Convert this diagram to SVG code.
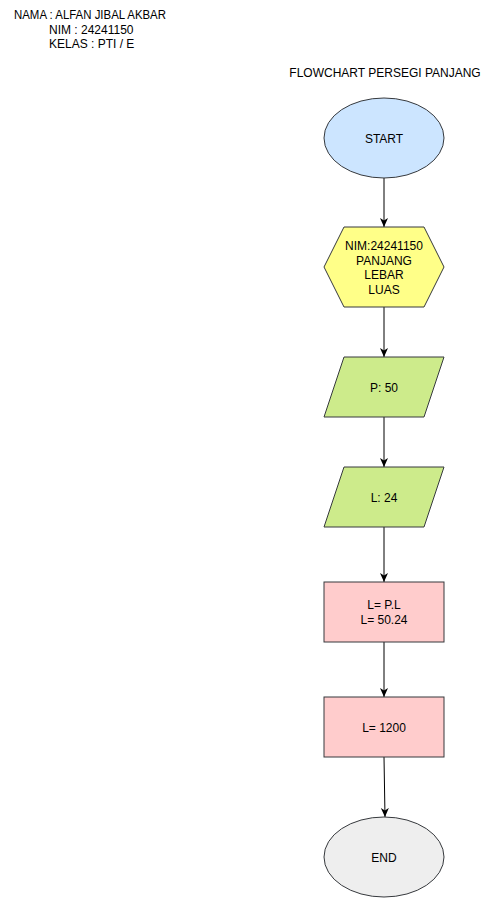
<svg xmlns="http://www.w3.org/2000/svg" width="489" height="898" viewBox="0 0 489 898">
<style>
text{font-family:"Liberation Sans",Arial,Helvetica,sans-serif;font-size:12px;fill:#000}
.c{text-anchor:middle}
.s{stroke:#36393d;stroke-width:1}
.e{stroke:#000;stroke-width:1;fill:none}
</style>
<defs>
<marker id="ar" markerWidth="10" markerHeight="10" viewBox="0 0 10 10" refX="9" refY="5" orient="auto" markerUnits="userSpaceOnUse">
<path d="M0,1 L9,5 L0,9 L2.5,5 Z" fill="#000"/>
</marker>
</defs>
<rect width="489" height="898" fill="#fff"/>
<g id="info">
<text x="14" y="19" textLength="152" lengthAdjust="spacingAndGlyphs">NAMA : ALFAN JIBAL AKBAR</text>
<text x="49" y="34">NIM : 24241150</text>
<text x="49" y="48">KELAS : PTI / E</text>
</g>
<g id="title"><text class="c" x="385" y="77">FLOWCHART PERSEGI PANJANG</text></g>
<g id="connectors">
<line class="e" x1="384" y1="178" x2="384" y2="227" marker-end="url(#ar)"/>
<line class="e" x1="384" y1="307" x2="384" y2="357" marker-end="url(#ar)"/>
<line class="e" x1="384" y1="417" x2="384" y2="467" marker-end="url(#ar)"/>
<line class="e" x1="384" y1="527" x2="384" y2="582" marker-end="url(#ar)"/>
<line class="e" x1="384" y1="642" x2="384" y2="697" marker-end="url(#ar)"/>
<line class="e" x1="384" y1="757" x2="385" y2="817" marker-end="url(#ar)"/>
</g>
<g id="start">
<ellipse class="s" cx="384" cy="138" rx="60" ry="40" fill="#cce5ff"/>
<text class="c" x="384" y="143">START</text>
</g>
<g id="vars">
<polygon class="s" points="344,227 424,227 444,267 424,307 344,307 324,267" fill="#ffff88"/>
<text class="c" x="384" y="250">NIM:24241150</text>
<text class="c" x="384" y="264.5">PANJANG</text>
<text class="c" x="384" y="279">LEBAR</text>
<text class="c" x="384" y="293.5">LUAS</text>
</g>
<g id="inputP">
<polygon class="s" points="344,357 444,357 424,417 324,417" fill="#cdeb8b"/>
<text class="c" x="384" y="391.5">P: 50</text>
</g>
<g id="inputL">
<polygon class="s" points="344,467 444,467 424,527 324,527" fill="#cdeb8b"/>
<text class="c" x="384" y="501.5">L: 24</text>
</g>
<g id="proc1">
<rect class="s" x="324" y="582" width="120" height="60" fill="#ffcccc"/>
<text class="c" x="384" y="609">L= P.L</text>
<text class="c" x="384" y="624">L= 50.24</text>
</g>
<g id="proc2">
<rect class="s" x="324" y="697" width="120" height="60" fill="#ffcccc"/>
<text class="c" x="384" y="731.5">L= 1200</text>
</g>
<g id="end">
<ellipse class="s" cx="384" cy="857" rx="60" ry="40" fill="#eeeeee"/>
<text class="c" x="384" y="862">END</text>
</g>
</svg>
